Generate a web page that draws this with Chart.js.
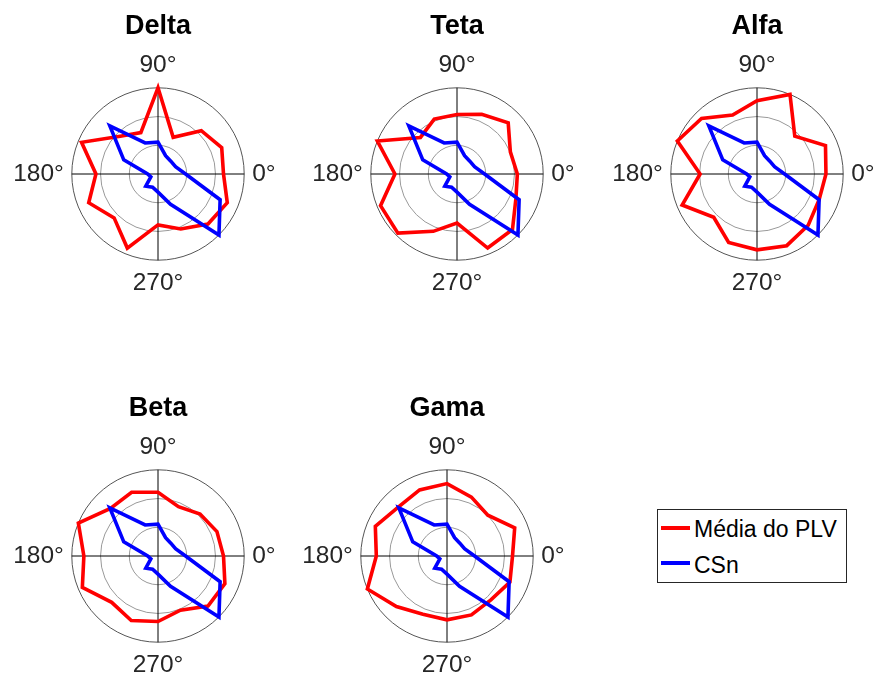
<!DOCTYPE html>
<html>
<head>
<meta charset="utf-8">
<title>Média do PLV vs CSn por banda</title>
<script src="https://cdn.jsdelivr.net/npm/chart.js@4.4.1/dist/chart.umd.min.js"></script>
<style>
  html, body { margin: 0; padding: 0; background: #fff; }
  body { position: relative; width: 876px; height: 680px; overflow: hidden; }
  canvas.polar { position: absolute; }
  #legend {
    position: absolute; left: 657px; top: 509px; width: 188px; height: 72px;
    border: 1px solid #262626; background: #fff;
    font-family: 'Liberation Sans', Arial, sans-serif; font-size: 23px; color: #000;
  }
  #legend .swatch { position: absolute; left: 3px; width: 29px; height: 3.5px; }
  #legend .txt { position: absolute; left: 36px; line-height: 26px; white-space: nowrap; }
</style>
</head>
<body>
<canvas id="c-delta" class="polar" width="370" height="300" style="left:-27px;top:-2px"></canvas>
<canvas id="c-teta"  class="polar" width="370" height="300" style="left:272px;top:-2px"></canvas>
<canvas id="c-alfa"  class="polar" width="370" height="300" style="left:572px;top:-2px"></canvas>
<canvas id="c-beta"  class="polar" width="370" height="300" style="left:-27px;top:380px"></canvas>
<canvas id="c-gama"  class="polar" width="370" height="300" style="left:262px;top:380px"></canvas>

<div id="legend">
  <div class="swatch" style="top:16px;background:#ff0000"></div>
  <div class="txt" style="top:6px">Média do PLV</div>
  <div class="swatch" style="top:51px;background:#0000ff"></div>
  <div class="txt" style="top:42px">CSn</div>
</div>

<script>
// Phase bins (degrees, counter-clockwise from 0°)
const ANGLES = [0, 22.5, 45, 67.5, 90, 112.5, 135, 157.5, 180, 202.5, 225, 247.5, 270, 292.5, 315, 337.5];

// Normalised radius per phase bin
const CSN   = [0.32, 0.22, 0.21, 0.23, 0.37, 0.39, 0.79, 0.43, 0.12, 0.09, 0.20, 0.165, 0.21, 0.38, 1.00, 0.78];
const DELTA = [0.76, 0.80, 0.71, 0.46, 1.00, 0.52, 0.62, 0.96, 0.72, 0.87, 0.72, 0.93, 0.59, 0.69, 0.82, 0.87];
const TETA  = [0.70, 0.67, 0.84, 0.75, 0.69, 0.69, 0.60, 1.00, 0.72, 0.96, 0.97, 0.72, 0.57, 0.93, 0.91, 0.74];
const ALFA  = [0.80, 0.86, 0.62, 1.00, 0.85, 0.74, 0.91, 1.00, 0.66, 0.94, 0.71, 0.86, 0.88, 0.90, 0.84, 0.78];
const BETA  = [0.76, 0.74, 0.69, 0.62, 0.74, 0.80, 0.78, 1.00, 0.86, 0.95, 0.76, 0.81, 0.76, 0.68, 0.82, 0.84];
const GAMA  = [0.76, 0.85, 0.67, 0.74, 0.84, 0.83, 0.80, 0.90, 0.82, 1.00, 0.83, 0.73, 0.74, 0.74, 0.72, 0.79];

// Rings drawn at these radii
const RING_STEPS = [0, 1 / 3, 2 / 3, 1];
// Angles that get a printed label and an axis line
const LABELLED_ANGLES = [0, 90, 180, 270];

const FONT = "'Liberation Sans', Arial, sans-serif";

// Radar indices run clockwise starting at the right (startAngle 90),
// so index i sits at phase -i*22.5°.
const N = ANGLES.length;
const radarIndexToBin = i => (N - i) % N;
const radarLabels = Array.from({ length: N }, (_, i) => {
  const a = ANGLES[radarIndexToBin(i)];
  return LABELLED_ANGLES.includes(a) ? a + '°' : '';
});
const toRadar = arr => Array.from({ length: N }, (_, i) => arr[radarIndexToBin(i)]);
const isLabelled = i => LABELLED_ANGLES.includes(ANGLES[radarIndexToBin(i)]);

function makePolar(id, title, values) {
  new Chart(document.getElementById(id), {
    type: 'radar',
    data: {
      labels: radarLabels,
      datasets: [
        { label: 'Média do PLV', data: toRadar(values), borderColor: '#ff0000', order: 1 },
        { label: 'CSn', data: toRadar(CSN), borderColor: '#0000ff', order: 0 }
      ]
    },
    options: {
      responsive: false,
      animation: false,
      events: [],
      layout: { padding: 0 },
      elements: {
        line: { borderWidth: 3.6, tension: 0, fill: false, borderJoinStyle: 'miter' },
        point: { radius: 0, hoverRadius: 0 }
      },
      plugins: {
        legend: { display: false },
        tooltip: { enabled: false },
        title: {
          display: true, text: title, color: '#000',
          font: { family: FONT, size: 27, weight: 'bold' },
          padding: { top: 12, bottom: 8 }
        }
      },
      scales: {
        r: {
          min: 0, max: 1,
          startAngle: 90,
          afterBuildTicks: s => { s.ticks = RING_STEPS.map(v => ({ value: v })); },
          ticks: { display: false },
          grid: {
            circular: true,
            lineWidth: 1,
            color: ctx => (ctx.index === RING_STEPS.length - 1 ? '#555555' : '#999999')
          },
          angleLines: {
            display: true,
            color: ctx => (isLabelled(ctx.index) ? '#000000' : 'rgba(0,0,0,0)'),
            lineWidth: ctx => (isLabelled(ctx.index) ? 1 : 0)
          },
          pointLabels: {
            display: true,
            padding: 8,
            color: '#262626',
            font: { family: FONT, size: 24.5 }
          }
        }
      }
    }
  });
}

makePolar('c-delta', 'Delta', DELTA);
makePolar('c-teta',  'Teta',  TETA);
makePolar('c-alfa',  'Alfa',  ALFA);
makePolar('c-beta',  'Beta',  BETA);
makePolar('c-gama',  'Gama',  GAMA);
</script>
</body>
</html>
